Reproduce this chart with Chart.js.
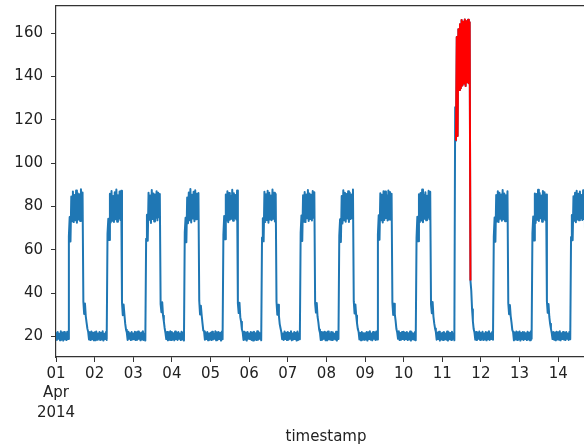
<!DOCTYPE html>
<html>
<head>
<meta charset="utf-8">
<script src="https://cdn.jsdelivr.net/npm/chart.js@4.4.1/dist/chart.umd.min.js"></script>
<style>
  html, body { margin: 0; padding: 0; background: #fff; overflow: hidden; }
  #wrap { width: 596px; height: 444px; }
</style>
</head>
<body>
<div id="wrap"><canvas id="line-chart" width="596" height="444"></canvas></div>
<script>
// half-hourly readings, 48 per day, starting 00:00
var day01 = [21.6,18.4,22.1,18.9,21.3,18.2,22.4,18.6,21.8,18.1,22.0,18.7,21.5,18.3,22.2,18.8,
  66.2,75.1,63.8,84.6,73.2,86.9,72.8,85.3,73.6,87.4,72.5,86.1,74.0,85.7,73.3,88.0,74.4,86.5,
  36.1,30.4,35.2,29.3,26.4,23.6,22.1,18.6,21.9,18.3,22.3,18.7,21.7,18.2];
var day02 = [21.9,18.2,22.3,18.5,21.4,18.9,22.0,18.3,21.7,18.6,22.4,18.1,21.2,18.8,22.1,18.4,
  67.4,74.3,64.5,85.9,72.6,87.2,73.4,84.8,72.9,86.6,74.1,87.8,73.0,85.2,74.6,86.9,73.8,87.3,
  35.6,29.8,34.7,30.2,25.9,23.1,21.8,18.4,22.2,18.9,21.5,18.3,22.0,18.6];
var day03 = [21.4,18.7,22.2,18.3,21.9,18.5,22.3,18.9,21.6,18.2,21.8,18.6,22.4,18.4,21.3,18.1,
  65.1,76.2,64.2,86.3,73.9,85.1,72.4,87.6,74.2,86.0,73.1,85.5,74.8,87.1,73.6,86.4,75.0,85.8,
  34.9,31.2,35.8,29.6,27.0,23.9,21.6,18.8,22.1,18.2,21.9,18.5,22.4,18.3];
var day04 = [22.0,18.6,21.5,18.2,22.3,18.8,21.7,18.4,22.1,18.9,21.4,18.3,22.2,18.6,21.8,18.1,
  68.0,74.8,63.5,84.2,72.3,86.5,73.7,88.1,72.6,85.4,74.5,86.8,73.2,87.5,74.1,85.9,74.9,86.2,
  36.4,30.1,34.2,29.9,26.1,22.8,22.3,18.5,21.6,18.8,22.0,18.2,21.3,18.7];
var day05 = [21.7,18.3,22.2,18.6,21.2,18.9,22.4,18.2,21.9,18.5,22.0,18.8,21.6,18.1,22.3,18.7,
  66.9,75.6,64.9,85.6,73.5,87.0,72.7,86.2,73.9,85.0,74.3,87.7,73.4,86.1,74.7,85.3,74.0,87.4,
  35.3,30.8,35.5,28.9,26.8,23.3,21.9,18.4,22.2,18.6,21.8,18.1,22.1,18.9];
var day06 = [21.3,18.8,22.1,18.4,21.8,18.1,22.2,18.7,21.5,18.3,22.4,18.5,21.9,18.9,21.6,18.2,
  65.7,74.6,63.9,86.8,72.9,85.7,73.8,87.3,72.5,86.4,74.0,85.1,73.7,87.9,74.4,86.3,73.1,85.8,
  36.0,30.0,34.6,29.5,25.7,23.8,22.0,18.7,21.4,18.4,22.3,18.8,21.7,18.3];
var day07 = [22.1,18.5,21.6,18.9,22.4,18.2,21.3,18.6,22.0,18.8,21.7,18.1,22.3,18.4,21.5,18.7,
  67.8,75.9,64.1,85.2,73.0,86.7,72.8,85.6,74.6,87.6,73.3,86.0,74.2,85.4,73.5,87.2,74.8,86.6,
  35.1,31.0,35.4,29.1,26.6,23.2,21.7,18.3,22.1,18.5,21.9,18.9,22.2,18.2];
var day08 = [21.8,18.2,22.3,18.7,21.4,18.5,22.1,18.3,21.9,18.9,21.2,18.6,22.2,18.1,21.7,18.8,
  66.5,74.1,63.6,84.9,72.2,87.5,73.6,86.3,73.0,85.8,74.5,87.0,72.9,86.5,74.2,85.6,74.6,87.8,
  36.3,30.6,34.8,29.7,26.2,23.5,22.2,18.6,21.6,18.2,22.0,18.7,21.5,18.4];
var day09 = [21.5,18.6,22.0,18.1,21.9,18.8,22.4,18.5,21.3,18.2,22.1,18.9,21.8,18.4,22.3,18.6,
  67.1,76.0,64.6,86.1,73.7,85.4,72.6,87.1,73.8,86.9,74.7,85.2,73.5,87.4,74.0,86.7,73.9,85.9,
  35.7,29.9,35.1,30.3,27.2,23.4,21.8,18.9,22.4,18.3,21.6,18.5,22.1,18.8];
var day10 = [22.2,18.4,21.7,18.8,22.0,18.3,21.5,18.6,22.3,18.1,21.9,18.7,21.4,18.5,22.1,18.2,
  65.4,75.3,64.0,85.7,72.8,86.2,73.5,87.9,72.7,85.5,74.4,86.6,73.6,85.0,74.9,87.3,74.1,86.8,
  34.8,30.7,35.9,29.2,26.0,23.7,22.1,18.5,21.8,18.8,22.2,18.1,21.4,18.6];
var day11 = [21.7,18.3,22.1,18.8,21.4,18.5,22.3,18.1,21.9,18.7,21.6,18.4,22.2,18.9,21.5,18.2,
  125.8,110.4,158.3,112.6,161.9,133.8,164.2,134.6,166.1,135.9,165.3,136.8,166.4,135.7,165.6,137.4,166.2,136.9,
  165.1,45.8,41.2,32.6,27.1,23.4,21.8,18.5,22.0,18.3,21.7,18.9,22.3,18.4];
var day12 = [21.6,18.9,22.2,18.3,21.4,18.6,22.0,18.2,21.8,18.7,22.4,18.4,21.3,18.8,22.1,18.5,
  66.0,74.9,63.7,85.3,73.1,87.1,72.9,86.4,74.3,85.6,73.4,87.6,74.1,86.0,73.2,85.2,74.5,87.0,
  35.4,30.3,34.5,29.4,26.5,23.0,22.0,18.2,21.7,18.6,22.3,18.4,21.9,18.7];
var day13 = [22.3,18.1,21.6,18.7,22.1,18.4,21.9,18.8,21.5,18.3,22.2,18.6,21.7,18.2,22.4,18.9,
  67.6,75.4,64.3,86.0,72.4,85.8,73.9,87.7,73.3,86.2,74.6,85.1,73.0,87.2,74.3,86.6,73.7,85.5,
  36.2,30.9,35.0,29.0,25.8,23.6,21.5,18.8,22.0,18.5,21.8,18.2,22.2,18.6];
var day14 = [21.9,18.5,22.4,18.2,21.5,18.8,22.1,18.6,21.7,18.3,22.0,18.9,21.3,18.4,22.2,18.7,
  65.9,76.1,64.4,84.7,73.4,86.4,72.7,87.3,74.0,85.9,73.6,86.9,74.7,85.3,73.8,87.5,74.2,86.1,
  35.9,30.5,34.9,29.6,26.3,23.2,21.9,18.4,22.1,18.7,21.6,18.3,22.3,18.5];

var days = [day01,day02,day03,day04,day05,day06,day07,day08,day09,day10,day11,day12,day13,day14];
var stepsPerDay = 48;

// anomaly window: Apr 11, 08:30 .. 17:30
var anomalyDay = 10, anomalyFirst = 17, anomalyLast = 35;

var dayLabels = ['01','02','03','04','05','06','07','08','09','10','11','12','13','14'];
var firstTickExtra = ['Apr','2014'];
var yTicks = [20,40,60,80,100,120,140,160];

var allPts = [], redPts = [];
days.forEach(function(vals, d){
  vals.forEach(function(v, i){
    var p = {x: d + i / stepsPerDay, y: v};
    allPts.push(p);
    if (d === anomalyDay && i >= anomalyFirst && i <= anomalyLast) redPts.push(p);
  });
});
var xMax = allPts[allPts.length - 1].x;

Chart.defaults.font.family = 'DejaVu Sans';
var tickFont = {family:'DejaVu Sans', size:15, lineHeight:1.3};

function noPad(s){ s.paddingTop = 0; s.paddingBottom = 0; s.paddingLeft = 0; s.paddingRight = 0; }

new Chart(document.getElementById('line-chart'), {
  type: 'line',
  data: {
    datasets: [
      {data: allPts, order:2, borderColor:'#1f77b4', borderWidth:2, pointRadius:0, borderJoinStyle:'round', fill:false, xAxisID:'x', yAxisID:'y'},
      {data: redPts, order:1, borderColor:'#ff0000', borderWidth:2, pointRadius:0, borderJoinStyle:'round', fill:false, xAxisID:'x', yAxisID:'y'}
    ]
  },
  options: {
    responsive: false,
    animation: false,
    devicePixelRatio: 1,
    layout: {padding: {top:6, left:0, right:0, bottom:0}},
    plugins: {legend:{display:false}, tooltip:{enabled:false}, title:{display:false}},
    scales: {
      x: {
        type:'linear', position:'bottom', min:0, max:xMax,
        afterBuildTicks: function(s){ s.ticks = dayLabels.map(function(_, d){ return {value:d}; }); },
        ticks: {autoSkip:false, maxRotation:0, color:'#222', font:tickFont, padding:2,
          callback: function(v){ return v === 0 ? [dayLabels[0]].concat(firstTickExtra) : dayLabels[v]; }},
        grid: {display:true, drawOnChartArea:false, drawTicks:true, tickLength:5, tickColor:'#333', tickWidth:1},
        border: {display:true, color:'#333', width:1.2},
        title: {display:true, text:'timestamp', color:'#222', font:{family:'DejaVu Sans', size:15}, padding:{top:0, bottom:-2}},
        afterFit: function(s){ s.height = 87; noPad(s); }
      },
      xTop: {
        type:'linear', position:'top', min:0, max:xMax,
        ticks:{display:false}, grid:{display:false, drawTicks:false},
        border:{display:true, color:'#333', width:1.2},
        afterFit: function(s){ s.height = 0; noPad(s); }
      },
      y: {
        type:'linear', position:'left', min:10.5, max:172.6,
        afterBuildTicks: function(s){ s.ticks = yTicks.map(function(v){ return {value:v}; }); },
        ticks: {color:'#222', font:{family:'DejaVu Sans', size:15}, padding:8},
        grid: {display:true, drawOnChartArea:false, drawTicks:true, tickLength:5, tickColor:'#333', tickWidth:1},
        border: {display:true, color:'#333', width:1.2},
        afterFit: function(s){ s.width = 56; noPad(s); }
      }
    }
  }
});
</script>
</body>
</html>
